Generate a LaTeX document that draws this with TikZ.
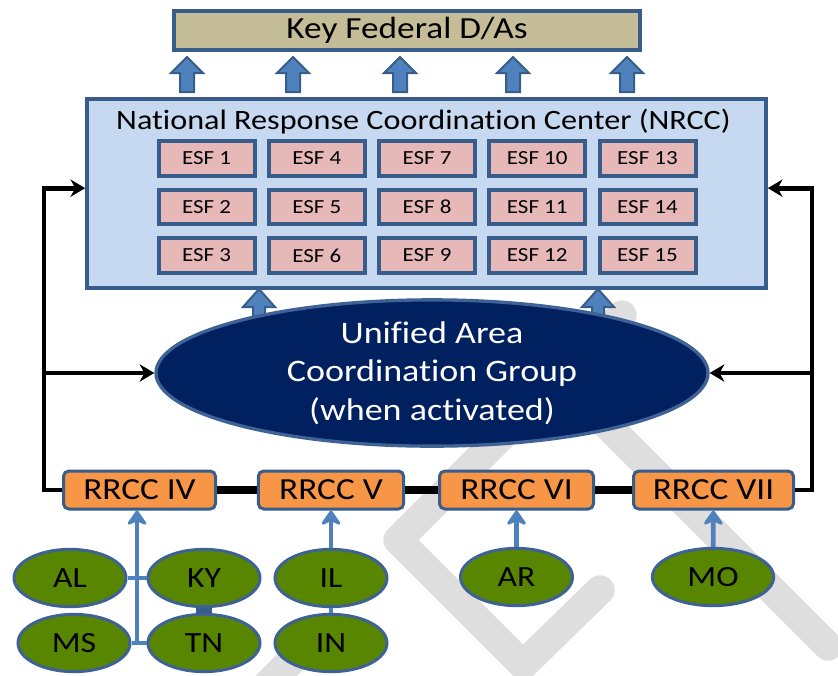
\documentclass[tikz,border=0pt]{standalone}
\usepackage{fontspec}
\setmainfont{Carlito}[FakeStretch=1.15, Ligatures=NoCommon]
\usetikzlibrary{shapes.geometric, arrows.meta}

\definecolor{bordblue}{RGB}{56,93,138}
\definecolor{rimblue}{RGB}{62,98,150}
\definecolor{tanfill}{RGB}{196,189,151}
\definecolor{nrccfill}{RGB}{198,217,241}
\definecolor{esffill}{RGB}{230,185,184}
\definecolor{uacgfill}{RGB}{0,32,96}
\definecolor{rrccfill}{RGB}{247,150,70}
\definecolor{statefill}{RGB}{88,134,0}
\definecolor{arrowblue}{RGB}{79,129,189}
\definecolor{faintgray}{RGB}{222,222,222}

\begin{document}
\begin{tikzpicture}[x=0.75pt, y=-0.75pt,
    faint/.style={draw=faintgray, line width=22pt, line cap=round, line join=round},
    fedbox/.style={draw=bordblue, fill=tanfill, line width=3pt, inner sep=0pt,
      minimum width=349pt, minimum height=29pt, font=\fontsize{23}{26}\selectfont},
    nrccbox/.style={draw=bordblue, fill=nrccfill, line width=3pt, inner sep=0pt,
      minimum width=509pt, minimum height=142pt},
    esf/.style={draw=bordblue, fill=esffill, line width=3pt, inner sep=0pt,
      minimum width=72pt, minimum height=26pt, font=\fontsize{15}{18}\selectfont},
    blockarr/.style={draw=bordblue, fill=arrowblue, line width=1.5pt, line join=miter},
    uacg/.style={ellipse, draw=rimblue, fill=uacgfill, line width=2.5pt, inner sep=0pt,
      minimum width=414pt, minimum height=108pt, text=white, align=center,
      font=\fontsize{23.5}{29}\selectfont},
    rrcc/.style={draw=bordblue, fill=rrccfill, line width=2.25pt, rounded corners=4pt,
      inner sep=0pt, minimum height=28.5pt, font=\fontsize{23}{26}\selectfont},
    state/.style={ellipse, draw=rimblue, fill=statefill, line width=2.25pt, inner sep=0pt,
      minimum width=84pt, minimum height=43pt, font=\fontsize{22}{26}\selectfont},
    link/.style={line width=3.5pt, -{Stealth[length=11pt, width=13pt]}},
    chain/.style={line width=6pt},
    stateln/.style={draw=arrowblue, line width=3.5pt},
    statearr/.style={stateln, -{Stealth[length=13pt, width=18pt, round]}}]
  \useasboundingbox (0,0) rectangle (838,675);

  % watermark
  \draw[faint] (622,315) -- (398,540) -- (523,665) -- (600,590);
  \draw[faint] (510,328) -- (828,646);
  \draw[faint] (302,650) -- (240,712);

  \node[fedbox] (keyfed) at (407,30.5) {Key Federal D/As};
  \node[nrccbox] (nrcc) at (426.5,193.5) {};
  \node[font=\fontsize{21}{24}\selectfont] (nrcctitle) at (423.5,122)
    {National Response Coordination Center (NRCC)};
  \foreach \c in {0,...,4}
    \foreach \r in {0,1,2} {
      \pgfmathtruncatemacro{\n}{3*\c+\r+1}
      \node[esf] (esf\n) at (206.5+110.25*\c, 158.5+48.5*\r) {ESF \n};
    }

  % arrows up
  \foreach \x in {187,293,400,513,627}
    \draw[blockarr] (\x,57) -- (\x+16,73) -- (\x+7,73) -- (\x+7,92)
      -- (\x-7,92) -- (\x-7,73) -- (\x-16,73) -- cycle;
  \foreach \x in {259,598}
    \draw[blockarr] (\x,289) -- (\x+16,307) -- (\x+6,307) -- (\x+6,328)
      -- (\x-6,328) -- (\x-6,307) -- (\x-16,307) -- cycle;

  \node[uacg] (uacg) at (432,373) {Unified Area\\Coordination Group\\(when activated)};

  \node[rrcc, minimum width=114pt] (rrcc4) at (139.5,490) {RRCC IV};
  \node[rrcc, minimum width=109pt] (rrcc5) at (331,490) {RRCC V};
  \node[rrcc, minimum width=115.5pt] (rrcc6) at (516.5,490) {RRCC VI};
  \node[rrcc, minimum width=120pt] (rrcc7) at (713.5,490) {RRCC VII};

  \node[state] (al) at (70,578) {AL};
  \node[state] (ky) at (204,578) {KY};
  \node[state] (ms) at (74,643) {MS};
  \node[state] (tn) at (204,643) {TN};
  \node[state] (il) at (331,578) {IL};
  \node[state] (in) at (331,643) {IN};
  \node[state] (ar) at (516.5,577) {AR};
  \node[state, minimum width=91pt] (mo) at (713,577) {MO};

  % black links
  \coordinate (lcorner) at (44,490);
  \coordinate (rcorner) at (812,490);
  \draw[link] (rrcc4.west) -- (lcorner) |- ([yshift=4pt]nrcc.west);
  \draw[link] (lcorner |- uacg.west) -- (uacg.west);
  \draw[link] (rrcc7.east) -- (rcorner) |- ([yshift=4pt]nrcc.east);
  \draw[link] (rcorner |- uacg.east) -- (uacg.east);
  \draw[chain] (rrcc4) -- (rrcc5) (rrcc5) -- (rrcc6) (rrcc6) -- (rrcc7);

  % states to regions
  \coordinate (hub4) at (137,643);
  \draw[stateln] (al) -- (ky);
  \draw[stateln] (ms) -- (tn);
  \draw[statearr] (hub4) -- (hub4 |- rrcc4.south);
  \draw[bordblue, line width=12pt] (ky) -- (tn);
  \draw[stateln] (il) -- (in);
  \draw[statearr] (il) -- (rrcc5);
  \draw[statearr] (ar) -- (rrcc6);
  \draw[statearr] (mo) -- (rrcc7);
\end{tikzpicture}
\end{document}
